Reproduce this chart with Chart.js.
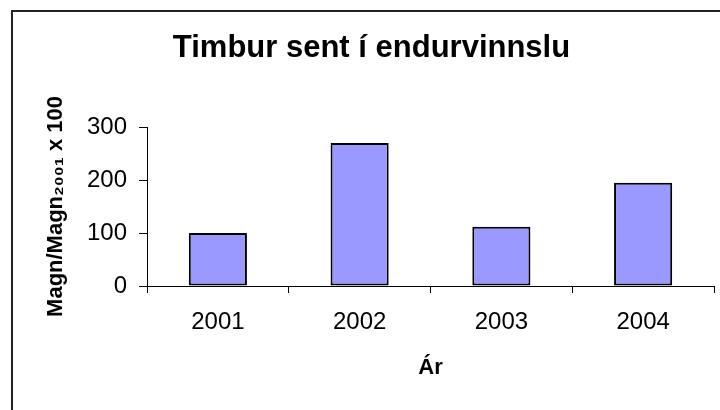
<!DOCTYPE html>
<html>
<head>
<meta charset="utf-8">
<script src="https://cdn.jsdelivr.net/npm/chart.js@4"></script>
<style>
  html, body { margin: 0; padding: 0; background: #fff; }
  #wrap { width: 720px; height: 410px; position: relative; }
</style>
</head>
<body>
<div id="wrap"><canvas id="c" width="720" height="410"></canvas></div>
<script>
const categories = ['2001', '2002', '2003', '2004'];
const values = [100, 270, 112, 195];
const yTicks = [0, 100, 200, 300];
const chartTitle = 'Timbur sent í endurvinnslu';
const xTitle = 'Ár';
const yTitle = 'Magn/Magn₂₀₀₁ x 100';

const FONT = '"Liberation Sans", Arial, Helvetica, sans-serif';

const frame = {
  id: 'frame',
  beforeDraw(chart) {
    const ctx = chart.ctx;
    ctx.save();
    ctx.fillStyle = '#ffffff';
    ctx.fillRect(0, 0, chart.width, chart.height);
    ctx.restore();
  },
  afterDraw(chart) {
    const ctx = chart.ctx;
    ctx.save();
    ctx.strokeStyle = '#222222';
    ctx.lineWidth = 2;
    ctx.strokeRect(12, 11, 900, 700);
    ctx.restore();
  }
};

new Chart(document.getElementById('c'), {
  type: 'bar',
  data: {
    labels: categories,
    datasets: [{
      data: values,
      backgroundColor: '#9999FF',
      borderColor: '#000000',
      borderWidth: 2,
      borderSkipped: false,
      barPercentage: 0.41,
      categoryPercentage: 1.0
    }]
  },
  options: {
    responsive: false,
    animation: false,
    devicePixelRatio: 1,
    layout: { padding: { left: 29, right: 6, top: 0, bottom: 0 } },
    plugins: {
      legend: { display: false },
      tooltip: { enabled: false },
      title: {
        display: true,
        text: chartTitle,
        color: '#000',
        font: { family: FONT, size: 31, weight: 'bold', lineHeight: 1.2 },
        padding: { top: 30, bottom: 59.8 }
      }
    },
    scales: {
      x: {
        type: 'category',
        offset: true,
        grid: { offset: true, drawOnChartArea: false, drawTicks: true, tickLength: 7, color: '#000', lineWidth: 1 },
        border: { display: true, color: '#000', width: 1 },
        ticks: { color: '#000', font: { family: FONT, size: 24 }, padding: 15, maxRotation: 0 },
        title: { display: true, text: xTitle, color: '#000', font: { family: FONT, size: 22, weight: 'bold', lineHeight: 1.2 }, padding: { top: 0, bottom: 29 } },
        afterFit(scale) { scale.height = 124; }
      },
      y: {
        min: 0,
        max: 300,
        afterBuildTicks(scale) { scale.ticks = yTicks.map(v => ({ value: v })); },
        grid: { drawOnChartArea: false, drawTicks: true, tickLength: 8, color: '#000', lineWidth: 1 },
        border: { display: true, color: '#000', width: 1 },
        ticks: { color: '#000', font: { family: FONT, size: 24 }, padding: 12 },
        title: { display: true, text: yTitle, color: '#000', font: { family: FONT, size: 22, weight: 'bold', lineHeight: 1.2 }, padding: { top: 14, bottom: 0 } },
        afterFit(scale) { scale.width = 118; }
      }
    }
  },
  plugins: [frame]
});
</script>
</body>
</html>
